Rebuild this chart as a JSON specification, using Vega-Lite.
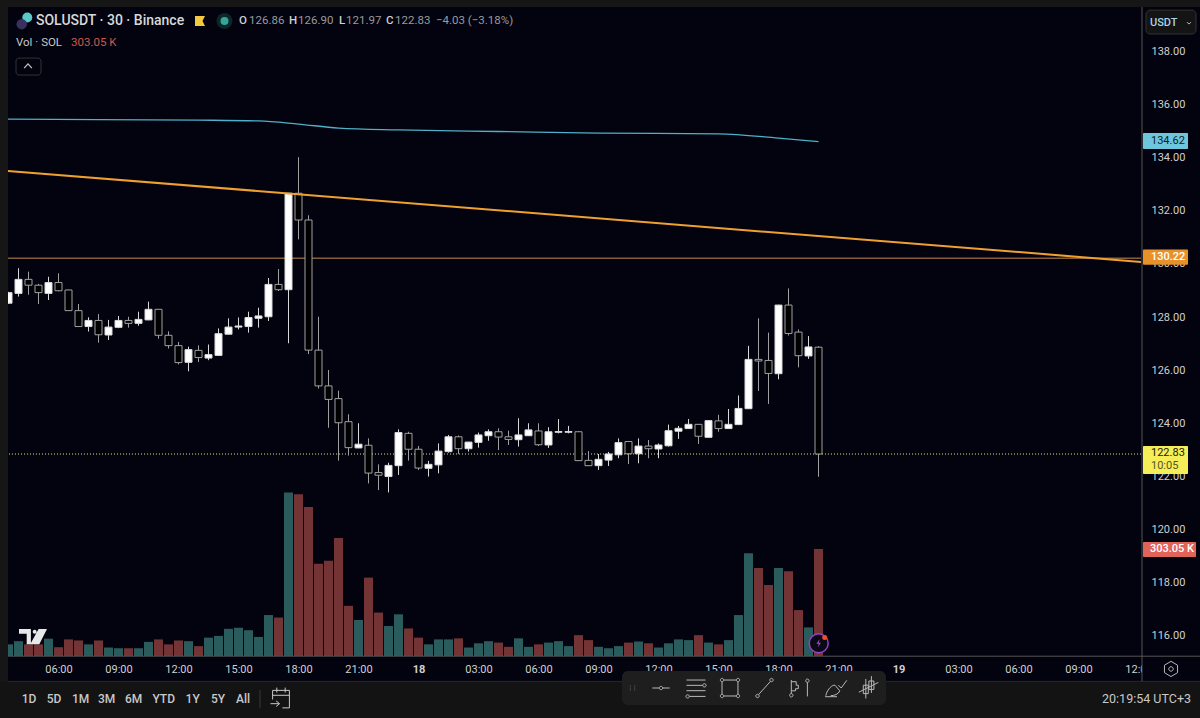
{"$schema":"https://vega.github.io/schema/vega-lite/v6.json","width":1133,"height":648,"autosize":"none","padding":{"left":8,"top":8,"right":59,"bottom":62},"background":"#02030f","view":{"stroke":null,"fill":"#02030f"},"config":{"axis":{"labelFont":"Roboto"}},
"datasets":{"candles":[
{"bar":0,"time":"2025-03-17T03:30","open":128.52,"high":128.95,"low":128.5,"close":128.92,"volume":33,"direction":"up"},
{"bar":1,"time":"2025-03-17T04:00","open":128.89,"high":129.84,"low":128.77,"close":129.42,"volume":42,"direction":"up"},
{"bar":2,"time":"2025-03-17T04:30","open":129.42,"high":129.71,"low":128.84,"close":129.2,"volume":33,"direction":"down"},
{"bar":3,"time":"2025-03-17T05:00","open":129.2,"high":129.25,"low":128.49,"close":128.92,"volume":33,"direction":"down"},
{"bar":4,"time":"2025-03-17T05:30","open":128.89,"high":129.52,"low":128.64,"close":129.3,"volume":49,"direction":"up"},
{"bar":5,"time":"2025-03-17T06:00","open":129.3,"high":129.65,"low":128.97,"close":128.99,"volume":25,"direction":"down"},
{"bar":6,"time":"2025-03-17T06:30","open":129.02,"high":129.03,"low":128.23,"close":128.24,"volume":47,"direction":"down"},
{"bar":7,"time":"2025-03-17T07:00","open":128.24,"high":128.49,"low":127.63,"close":127.64,"volume":44,"direction":"down"},
{"bar":8,"time":"2025-03-17T07:30","open":127.64,"high":127.99,"low":127.45,"close":127.87,"volume":33,"direction":"up"},
{"bar":9,"time":"2025-03-17T08:00","open":127.87,"high":128.11,"low":127.03,"close":127.33,"volume":44,"direction":"down"},
{"bar":10,"time":"2025-03-17T08:30","open":127.32,"high":127.89,"low":127.13,"close":127.62,"volume":24,"direction":"up"},
{"bar":11,"time":"2025-03-17T09:00","open":127.61,"high":128.04,"low":127.58,"close":127.87,"volume":22,"direction":"up"},
{"bar":12,"time":"2025-03-17T09:30","open":127.87,"high":128.01,"low":127.6,"close":127.76,"volume":22,"direction":"down"},
{"bar":13,"time":"2025-03-17T10:00","open":127.76,"high":128.2,"low":127.67,"close":127.91,"volume":22,"direction":"up"},
{"bar":14,"time":"2025-03-17T10:30","open":127.89,"high":128.58,"low":127.88,"close":128.29,"volume":40,"direction":"up"},
{"bar":15,"time":"2025-03-17T11:00","open":128.29,"high":128.3,"low":127.18,"close":127.31,"volume":47,"direction":"down"},
{"bar":16,"time":"2025-03-17T11:30","open":127.31,"high":127.46,"low":126.81,"close":126.92,"volume":33,"direction":"down"},
{"bar":17,"time":"2025-03-17T12:00","open":126.92,"high":127.06,"low":126.21,"close":126.28,"volume":44,"direction":"down"},
{"bar":18,"time":"2025-03-17T12:30","open":126.29,"high":126.88,"low":125.95,"close":126.77,"volume":42,"direction":"up"},
{"bar":19,"time":"2025-03-17T13:00","open":126.74,"high":126.93,"low":126.3,"close":126.47,"volume":28,"direction":"down"},
{"bar":20,"time":"2025-03-17T13:30","open":126.45,"high":126.96,"low":126.37,"close":126.58,"volume":52,"direction":"up"},
{"bar":21,"time":"2025-03-17T14:00","open":126.55,"high":127.57,"low":126.53,"close":127.37,"volume":57,"direction":"up"},
{"bar":22,"time":"2025-03-17T14:30","open":127.35,"high":127.95,"low":127.34,"close":127.62,"volume":77,"direction":"up"},
{"bar":23,"time":"2025-03-17T15:00","open":127.62,"high":127.98,"low":127.53,"close":127.66,"volume":80,"direction":"up"},
{"bar":24,"time":"2025-03-17T15:30","open":127.64,"high":128.2,"low":127.41,"close":127.98,"volume":73,"direction":"up"},
{"bar":25,"time":"2025-03-17T16:00","open":127.95,"high":128.35,"low":127.6,"close":128.04,"volume":54,"direction":"up"},
{"bar":26,"time":"2025-03-17T16:30","open":128.01,"high":129.47,"low":127.85,"close":129.23,"volume":116,"direction":"up"},
{"bar":27,"time":"2025-03-17T17:00","open":129.23,"high":129.81,"low":128.98,"close":129.03,"volume":109,"direction":"down"},
{"bar":28,"time":"2025-03-17T17:30","open":129.03,"high":132.68,"low":127.01,"close":132.67,"volume":463,"direction":"up"},
{"bar":29,"time":"2025-03-17T18:00","open":132.67,"high":134.03,"low":130.93,"close":131.66,"volume":458,"direction":"down"},
{"bar":30,"time":"2025-03-17T18:30","open":131.66,"high":131.84,"low":126.6,"close":126.75,"volume":422,"direction":"down"},
{"bar":31,"time":"2025-03-17T19:00","open":126.75,"high":128.01,"low":125.3,"close":125.4,"volume":261,"direction":"down"},
{"bar":32,"time":"2025-03-17T19:30","open":125.4,"high":126.0,"low":123.82,"close":124.89,"volume":270,"direction":"down"},
{"bar":33,"time":"2025-03-17T20:00","open":124.92,"high":125.22,"low":122.58,"close":124.01,"volume":334,"direction":"down"},
{"bar":34,"time":"2025-03-17T20:30","open":124.05,"high":124.33,"low":122.77,"close":123.07,"volume":142,"direction":"down"},
{"bar":35,"time":"2025-03-17T21:00","open":123.06,"high":123.99,"low":123.05,"close":123.2,"volume":102,"direction":"up"},
{"bar":36,"time":"2025-03-17T21:30","open":123.16,"high":123.42,"low":121.72,"close":122.11,"volume":222,"direction":"down"},
{"bar":37,"time":"2025-03-17T22:00","open":122.13,"high":122.44,"low":121.47,"close":122.03,"volume":123,"direction":"down"},
{"bar":38,"time":"2025-03-17T22:30","open":121.98,"high":122.5,"low":121.38,"close":122.4,"volume":85,"direction":"up"},
{"bar":39,"time":"2025-03-17T23:00","open":122.39,"high":123.76,"low":122.04,"close":123.64,"volume":118,"direction":"up"},
{"bar":40,"time":"2025-03-17T23:30","open":123.61,"high":123.67,"low":122.58,"close":123.01,"volume":78,"direction":"down"},
{"bar":41,"time":"2025-03-18T00:00","open":123.01,"high":123.13,"low":122.23,"close":122.3,"volume":52,"direction":"down"},
{"bar":42,"time":"2025-03-18T00:30","open":122.29,"high":122.57,"low":121.98,"close":122.44,"volume":33,"direction":"up"},
{"bar":43,"time":"2025-03-18T01:00","open":122.42,"high":123.23,"low":122.1,"close":122.94,"volume":47,"direction":"up"},
{"bar":44,"time":"2025-03-18T01:30","open":122.92,"high":123.55,"low":122.88,"close":123.48,"volume":47,"direction":"up"},
{"bar":45,"time":"2025-03-18T02:00","open":123.48,"high":123.53,"low":122.83,"close":123.03,"volume":50,"direction":"down"},
{"bar":46,"time":"2025-03-18T02:30","open":123.03,"high":123.29,"low":122.92,"close":123.28,"volume":24,"direction":"up"},
{"bar":47,"time":"2025-03-18T03:00","open":123.27,"high":123.64,"low":123.07,"close":123.55,"volume":36,"direction":"up"},
{"bar":48,"time":"2025-03-18T03:30","open":123.52,"high":123.76,"low":123.33,"close":123.67,"volume":42,"direction":"up"},
{"bar":49,"time":"2025-03-18T04:00","open":123.67,"high":123.8,"low":122.98,"close":123.47,"volume":38,"direction":"down"},
{"bar":50,"time":"2025-03-18T04:30","open":123.48,"high":123.71,"low":123.17,"close":123.38,"volume":26,"direction":"down"},
{"bar":51,"time":"2025-03-18T05:00","open":123.37,"high":124.18,"low":123.11,"close":123.55,"volume":50,"direction":"up"},
{"bar":52,"time":"2025-03-18T05:30","open":123.52,"high":123.99,"low":123.51,"close":123.74,"volume":26,"direction":"up"},
{"bar":53,"time":"2025-03-18T06:00","open":123.7,"high":123.99,"low":123.13,"close":123.18,"volume":33,"direction":"down"},
{"bar":54,"time":"2025-03-18T06:30","open":123.17,"high":123.84,"low":123.06,"close":123.67,"volume":38,"direction":"up"},
{"bar":55,"time":"2025-03-18T07:00","open":123.65,"high":124.15,"low":123.61,"close":123.68,"volume":42,"direction":"up"},
{"bar":56,"time":"2025-03-18T07:30","open":123.65,"high":123.89,"low":123.61,"close":123.68,"volume":28,"direction":"up"},
{"bar":57,"time":"2025-03-18T08:00","open":123.67,"high":123.68,"low":122.57,"close":122.58,"volume":59,"direction":"down"},
{"bar":58,"time":"2025-03-18T08:30","open":122.59,"high":122.94,"low":122.38,"close":122.39,"volume":45,"direction":"down"},
{"bar":59,"time":"2025-03-18T09:00","open":122.39,"high":122.83,"low":122.23,"close":122.63,"volume":26,"direction":"up"},
{"bar":60,"time":"2025-03-18T09:30","open":122.6,"high":122.91,"low":122.38,"close":122.83,"volume":22,"direction":"up"},
{"bar":61,"time":"2025-03-18T10:00","open":122.8,"high":123.42,"low":122.67,"close":123.26,"volume":28,"direction":"up"},
{"bar":62,"time":"2025-03-18T10:30","open":123.3,"high":123.31,"low":122.45,"close":122.84,"volume":38,"direction":"down"},
{"bar":63,"time":"2025-03-18T11:00","open":122.84,"high":123.42,"low":122.48,"close":123.13,"volume":41,"direction":"up"},
{"bar":64,"time":"2025-03-18T11:30","open":123.13,"high":123.36,"low":122.67,"close":123.03,"volume":36,"direction":"down"},
{"bar":65,"time":"2025-03-18T12:00","open":123.02,"high":123.23,"low":122.67,"close":123.17,"volume":24,"direction":"up"},
{"bar":66,"time":"2025-03-18T12:30","open":123.14,"high":123.94,"low":123.11,"close":123.71,"volume":36,"direction":"up"},
{"bar":67,"time":"2025-03-18T13:00","open":123.69,"high":123.89,"low":123.4,"close":123.8,"volume":47,"direction":"up"},
{"bar":68,"time":"2025-03-18T13:30","open":123.79,"high":124.15,"low":123.78,"close":123.95,"volume":45,"direction":"up"},
{"bar":69,"time":"2025-03-18T14:00","open":123.95,"high":123.96,"low":123.21,"close":123.5,"volume":59,"direction":"down"},
{"bar":70,"time":"2025-03-18T14:30","open":123.46,"high":124.1,"low":123.45,"close":124.09,"volume":38,"direction":"up"},
{"bar":71,"time":"2025-03-18T15:00","open":124.08,"high":124.31,"low":123.67,"close":123.79,"volume":33,"direction":"down"},
{"bar":72,"time":"2025-03-18T15:30","open":123.79,"high":124.53,"low":123.78,"close":123.95,"volume":45,"direction":"up"},
{"bar":73,"time":"2025-03-18T16:00","open":123.94,"high":125.04,"low":123.93,"close":124.55,"volume":116,"direction":"up"},
{"bar":74,"time":"2025-03-18T16:30","open":124.54,"high":126.91,"low":124.53,"close":126.4,"volume":291,"direction":"up"},
{"bar":75,"time":"2025-03-18T17:00","open":126.4,"high":127.95,"low":125.21,"close":126.34,"volume":249,"direction":"down"},
{"bar":76,"time":"2025-03-18T17:30","open":126.36,"high":127.41,"low":124.72,"close":125.87,"volume":201,"direction":"down"},
{"bar":77,"time":"2025-03-18T18:00","open":125.86,"high":128.46,"low":125.65,"close":128.45,"volume":249,"direction":"up"},
{"bar":78,"time":"2025-03-18T18:30","open":128.45,"high":129.08,"low":127.3,"close":127.38,"volume":240,"direction":"down"},
{"bar":79,"time":"2025-03-18T19:00","open":127.43,"high":127.53,"low":126.1,"close":126.54,"volume":130,"direction":"down"},
{"bar":80,"time":"2025-03-18T19:30","open":126.53,"high":127.28,"low":126.42,"close":126.87,"volume":81,"direction":"up"},
{"bar":81,"time":"2025-03-18T20:00","open":126.86,"high":126.9,"low":121.97,"close":122.83,"volume":303.05,"direction":"down"}
],
"movingAverage":[{"bar":-0.05,"price":135.47},{"bar":9,"price":135.45},{"bar":19,"price":135.43},{"bar":25,"price":135.4},{"bar":29,"price":135.28},{"bar":33,"price":135.13},{"bar":39,"price":135.06},{"bar":49,"price":135.0},{"bar":59,"price":134.94},{"bar":71,"price":134.91},{"bar":77,"price":134.75},{"bar":81,"price":134.62}],
"trendline":[{"bar":-0.05,"price":133.51},{"bar":113.25,"price":130.08}]},
"resolve":{"scale":{"y":"independent"}},
"layer":[
{"data":{"name":"candles"},"mark":{"type":"bar","size":9,"orient":"vertical"},"encoding":{
"x":{"field":"bar","type":"quantitative","scale":{"domain":[-0.05,113.25],"nice":false,"zero":false,"padding":0},"axis":{"title":null,"values":[5,11,17,23,29,35,41,47,53,59,65,71,77,83,89,95,101,107,113],"labelExpr":"(3.5+datum.value/2)%24==0 ? ''+(17+(3.5+datum.value/2)/24) : format((3.5+datum.value/2)%24,'02d')+':00'","ticks":false,"grid":false,"domain":false,"labelPadding":7,"labelFontSize":11,"labelColor":"#d0d0d0","labelOverlap":false,"labelFlush":false,"labelBound":false,"labelFontWeight":{"condition":{"test":"(3.5+datum.value/2)%24==0","value":"bold"},"value":"normal"}}},
"y":{"field":"volume","type":"quantitative","scale":{"domain":[0,1835],"nice":false,"zero":true},"axis":null},
"color":{"field":"direction","type":"nominal","scale":{"domain":["up","down"],"range":["#2a5c5e","#743335"]},"legend":null}}},
{"data":{"values":[{}]},"layer":[
{"mark":{"type":"rule","color":"#c98a4a","strokeWidth":1},"encoding":{"y":{"datum":130.22,"scale":{"domain":[115.208,139.66],"nice":false,"zero":false},"axis":{"title":null,"orient":"right","values":[116,118,120,122,124,126,128,130,132,134,136,138],"format":".2f","ticks":false,"grid":false,"domain":false,"labelPadding":10,"labelFontSize":11,"labelColor":"#d0d0d0","labelOverlap":false,"labelFlush":false,"labelBound":false}}}},
{"mark":{"type":"rule","color":"#e8e27a","strokeWidth":1,"strokeDash":[1,2]},"encoding":{"y":{"datum":122.83}}},
{"data":{"name":"movingAverage"},"mark":{"type":"line","color":"#4fb0c8","strokeWidth":1.3,"interpolate":"monotone"},"encoding":{"x":{"field":"bar","type":"quantitative"},"y":{"field":"price","type":"quantitative"}}},
{"data":{"name":"candles"},"mark":{"type":"rule","strokeWidth":1},"encoding":{"x":{"field":"bar","type":"quantitative"},"y":{"field":"low","type":"quantitative"},"y2":{"field":"high"},"stroke":{"field":"direction","type":"nominal","scale":{"domain":["up","down"],"range":["#d8d8d8","#a0a0a0"]},"legend":null}}},
{"data":{"name":"candles"},"mark":{"type":"bar","size":7,"orient":"vertical","strokeWidth":1},"encoding":{"x":{"field":"bar","type":"quantitative"},"y":{"field":"open","type":"quantitative"},"y2":{"field":"close"},"fill":{"field":"direction","type":"nominal","scale":{"domain":["up","down"],"range":["#ffffff","#000000"]},"legend":null},"stroke":{"field":"direction","type":"nominal","scale":{"domain":["up","down"],"range":["#ffffff","#787878"]},"legend":null}}},
{"data":{"name":"trendline"},"mark":{"type":"line","color":"#f0a030","strokeWidth":2},"encoding":{"x":{"field":"bar","type":"quantitative"},"y":{"field":"price","type":"quantitative"}}},

{"mark":{"type":"rect","fill":"#161616"},"encoding":{"x":{"datum":-0.85},"x2":{"datum":119.15},"y":{"datum":139.96},"y2":{"datum":139.7}}},
{"mark":{"type":"rect","fill":"#161616"},"encoding":{"x":{"datum":-0.85},"x2":{"datum":-0.05},"y":{"datum":139.96},"y2":{"datum":112.87}}},
{"mark":{"type":"rect","fill":"#02030f"},"encoding":{"x":{"datum":113.35},"x2":{"datum":119.15},"y":{"datum":115.19},"y2":{"datum":114.26}}},
{"mark":{"type":"rect","fill":"#131313"},"encoding":{"x":{"datum":-0.85},"x2":{"datum":119.15},"y":{"datum":114.23},"y2":{"datum":112.87}}},
{"mark":{"type":"rule","color":"#555555","strokeWidth":1},"encoding":{"x":{"datum":-0.05},"x2":{"datum":119.15},"y":{"datum":115.2}}},
{"mark":{"type":"rule","color":"#2a2a2a","strokeWidth":1},"encoding":{"x":{"datum":-0.05},"x2":{"datum":119.15},"y":{"datum":114.25}}},
{"mark":{"type":"rule","color":"#555555","strokeWidth":1},"encoding":{"x":{"datum":113.35},"y":{"datum":139.7},"y2":{"datum":114.25}}},

{"mark":{"type":"text","text":"SOLUSDT · 30 · Binance","font":"Roboto","fontSize":14,"fontWeight":500,"align":"left","baseline":"middle","color":"#d8d8d8"},"encoding":{"x":{"datum":2.75},"y":{"datum":139.17}}},
{"mark":{"type":"point","shape":"circle","size":100,"filled":true,"color":"#5ac8c8","opacity":1},"encoding":{"x":{"datum":1.88},"y":{"datum":139.3}}},
{"mark":{"type":"point","shape":"circle","size":110,"filled":true,"color":"#3a3060","opacity":1},"encoding":{"x":{"datum":1.32},"y":{"datum":139.05}}},
{"mark":{"type":"point","shape":"M-1,-1H1L0.5,0L1,1H-1Z","size":100,"filled":true,"color":"#f5c842","opacity":1},"encoding":{"x":{"datum":19.15},"y":{"datum":139.17}}},
{"mark":{"type":"point","shape":"circle","size":256,"filled":true,"color":"#0e2628","opacity":1},"encoding":{"x":{"datum":21.6},"y":{"datum":139.17}}},
{"mark":{"type":"point","shape":"circle","size":64,"filled":true,"color":"#2fa89a","opacity":1},"encoding":{"x":{"datum":21.6},"y":{"datum":139.17}}},
{"mark":{"type":"text","text":"O","font":"Roboto","fontSize":11.5,"fontWeight":500,"align":"left","baseline":"middle","color":"#d0d0d0"},"encoding":{"x":{"datum":23.05},"y":{"datum":139.17}}},
{"mark":{"type":"text","text":"126.86","font":"Roboto","fontSize":11.5,"align":"left","baseline":"middle","color":"#9a9a9a"},"encoding":{"x":{"datum":24.05},"y":{"datum":139.17}}},
{"mark":{"type":"text","text":"H","font":"Roboto","fontSize":11.5,"fontWeight":500,"align":"left","baseline":"middle","color":"#d0d0d0"},"encoding":{"x":{"datum":28.05},"y":{"datum":139.17}}},
{"mark":{"type":"text","text":"126.90","font":"Roboto","fontSize":11.5,"align":"left","baseline":"middle","color":"#9a9a9a"},"encoding":{"x":{"datum":28.95},"y":{"datum":139.17}}},
{"mark":{"type":"text","text":"L","font":"Roboto","fontSize":11.5,"fontWeight":500,"align":"left","baseline":"middle","color":"#d0d0d0"},"encoding":{"x":{"datum":33.05},"y":{"datum":139.17}}},
{"mark":{"type":"text","text":"121.97","font":"Roboto","fontSize":11.5,"align":"left","baseline":"middle","color":"#9a9a9a"},"encoding":{"x":{"datum":33.75},"y":{"datum":139.17}}},
{"mark":{"type":"text","text":"C","font":"Roboto","fontSize":11.5,"fontWeight":500,"align":"left","baseline":"middle","color":"#d0d0d0"},"encoding":{"x":{"datum":37.75},"y":{"datum":139.17}}},
{"mark":{"type":"text","text":"122.83","font":"Roboto","fontSize":11.5,"align":"left","baseline":"middle","color":"#9a9a9a"},"encoding":{"x":{"datum":38.65},"y":{"datum":139.17}}},
{"mark":{"type":"text","text":"−4.03 (−3.18%)","font":"Roboto","fontSize":11.5,"align":"left","baseline":"middle","color":"#9a9a9a"},"encoding":{"x":{"datum":42.75},"y":{"datum":139.17}}},
{"mark":{"type":"text","text":"Vol · SOL","font":"Roboto","fontSize":11.5,"align":"left","baseline":"middle","color":"#c8c8c8"},"encoding":{"x":{"datum":0.75},"y":{"datum":138.34}}},
{"mark":{"type":"text","text":"303.05 K","font":"Roboto","fontSize":11.5,"align":"left","baseline":"middle","color":"#d0584c"},"encoding":{"x":{"datum":6.25},"y":{"datum":138.34}}},
{"mark":{"type":"rect","fill":"#02030f","stroke":"#333333","strokeWidth":1,"cornerRadius":3},"encoding":{"x":{"datum":0.75},"x2":{"datum":3.25},"y":{"datum":137.77},"y2":{"datum":137.13}}},
{"mark":{"type":"point","shape":"M-.55,.3L0,-.3L.55,.3","size":196,"filled":false,"stroke":"#c8c8c8","strokeWidth":1.2,"opacity":1},"encoding":{"x":{"datum":1.95},"y":{"datum":137.47}}},

{"mark":{"type":"rect","fill":"#141414","stroke":"#333333","strokeWidth":1,"cornerRadius":4},"encoding":{"x":{"datum":113.75},"x2":{"datum":118.75},"y":{"datum":139.58},"y2":{"datum":138.68}}},
{"mark":{"type":"text","text":"USDT","font":"Roboto","fontSize":11,"fontWeight":500,"align":"left","baseline":"middle","color":"#a9d5e8"},"encoding":{"x":{"datum":114.15},"y":{"datum":139.11}}},
{"mark":{"type":"point","shape":"M-.4,-.2L0,.2L.4,-.2","size":100,"filled":false,"stroke":"#b8b8b8","strokeWidth":1,"opacity":1},"encoding":{"x":{"datum":118.05},"y":{"datum":139.09}}},
{"mark":{"type":"rect","fill":"#6ec6dc","cornerRadius":1},"encoding":{"x":{"datum":113.45},"x2":{"datum":117.95},"y":{"datum":134.94},"y2":{"datum":134.34}}},
{"mark":{"type":"text","text":"134.62","font":"Roboto","fontSize":11,"align":"left","baseline":"middle","color":"#10202a"},"encoding":{"x":{"datum":114.25},"y":{"datum":134.64}}},
{"mark":{"type":"rect","fill":"#e8912a","cornerRadius":1},"encoding":{"x":{"datum":113.45},"x2":{"datum":117.95},"y":{"datum":130.55},"y2":{"datum":129.97}}},
{"mark":{"type":"text","text":"130.22","font":"Roboto","fontSize":11,"fontWeight":500,"align":"left","baseline":"middle","color":"#ffffff"},"encoding":{"x":{"datum":114.25},"y":{"datum":130.25}}},
{"mark":{"type":"rect","fill":"#f5ee58","cornerRadius":1},"encoding":{"x":{"datum":113.45},"x2":{"datum":117.95},"y":{"datum":123.13},"y2":{"datum":122.08}}},
{"mark":{"type":"text","text":"122.83","font":"Roboto","fontSize":11,"align":"left","baseline":"middle","color":"#1a1a08"},"encoding":{"x":{"datum":114.25},"y":{"datum":122.85}}},
{"mark":{"type":"text","text":"10:05","font":"Roboto","fontSize":11,"align":"left","baseline":"middle","color":"#55551e"},"encoding":{"x":{"datum":114.25},"y":{"datum":122.38}}},
{"mark":{"type":"rect","fill":"#e0635a","cornerRadius":1},"encoding":{"x":{"datum":113.45},"x2":{"datum":118.75},"y":{"datum":119.51},"y2":{"datum":118.94}}},
{"mark":{"type":"text","text":"303.05 K","font":"Roboto","fontSize":11,"fontWeight":500,"align":"left","baseline":"middle","color":"#ffffff"},"encoding":{"x":{"datum":114.15},"y":{"datum":119.23}}},

{"mark":{"type":"point","shape":"M-1,-.55H-.15V.55H-.45V-.2H-1Z M-.02,-.35a.14,.14 0 1,0 .28,0a.14,.14 0 1,0 -.28,0 M.4,-.55H1L.45,.55H-.2Z","size":784,"filled":true,"color":"#e8e8e8","opacity":1},"encoding":{"x":{"datum":2.45},"y":{"datum":115.94}}},
{"mark":{"type":"point","shape":"circle","size":361,"filled":true,"fill":"#0a0a16","stroke":"#9b3fc8","strokeWidth":1.5,"opacity":1},"encoding":{"x":{"datum":81.02},"y":{"datum":115.69}}},
{"mark":{"type":"point","shape":"M.15,-.8L-.45,.1H0L-.15,.8L.45,-.1H0Z","size":100,"filled":true,"color":"#a04ad0","opacity":1},"encoding":{"x":{"datum":81.02},"y":{"datum":115.69}}},
{"mark":{"type":"point","shape":"circle","size":25,"filled":true,"color":"#f04a30","opacity":1},"encoding":{"x":{"datum":81.62},"y":{"datum":115.91}}},

{"mark":{"type":"rect","fill":"#1e1e1e","cornerRadius":6},"encoding":{"x":{"datum":61.35},"x2":{"datum":87.75},"y":{"datum":114.64},"y2":{"datum":113.36}}},
{"mark":{"type":"point","shape":"M-.55,-.55h.25v.25h-.25Z M.3,-.55h.25v.25h-.25Z M-.55,-.12h.25v.25h-.25Z M.3,-.12h.25v.25h-.25Z M-.55,.3h.25v.25h-.25Z M.3,.3h.25v.25h-.25Z","size":100,"filled":true,"color":"#4a4a4a","opacity":1},"encoding":{"x":{"datum":62.4},"y":{"datum":114.0}}},
{"mark":{"type":"point","shape":"M-.62,0H-.12 M.12,0H.62 M-.12,0a.12,.12 0 1,0 .24,0a.12,.12 0 1,0 -.24,0","size":784,"filled":false,"stroke":"#b8b8b8","strokeWidth":1,"opacity":1},"encoding":{"x":{"datum":65.25},"y":{"datum":114.0}}},
{"mark":{"type":"point","shape":"M-.68,-.57H.68 M-.68,-.19H.48 M-.68,.19H.68 M-.48,.6H.68 M.48,-.19a.12,.12 0 1,0 .24,0a.12,.12 0 1,0 -.24,0 M-.72,.6a.12,.12 0 1,0 .24,0a.12,.12 0 1,0 -.24,0","size":784,"filled":false,"stroke":"#b8b8b8","strokeWidth":1,"opacity":1},"encoding":{"x":{"datum":68.75},"y":{"datum":114.0}}},
{"mark":{"type":"point","shape":"M-.57,-.45V.45 M.57,-.45V.45 M-.45,-.57H.45 M-.45,.57H.45 M-.69,-.57a.12,.12 0 1,0 .24,0a.12,.12 0 1,0 -.24,0 M.45,-.57a.12,.12 0 1,0 .24,0a.12,.12 0 1,0 -.24,0 M-.69,.57a.12,.12 0 1,0 .24,0a.12,.12 0 1,0 -.24,0 M.45,.57a.12,.12 0 1,0 .24,0a.12,.12 0 1,0 -.24,0","size":784,"filled":false,"stroke":"#b8b8b8","strokeWidth":1,"opacity":1},"encoding":{"x":{"datum":72.15},"y":{"datum":114.0}}},
{"mark":{"type":"point","shape":"M-.42,.47L.42,-.47 M-.62,.57a.12,.12 0 1,0 .24,0a.12,.12 0 1,0 -.24,0 M.38,-.57a.12,.12 0 1,0 .24,0a.12,.12 0 1,0 -.24,0","size":784,"filled":false,"stroke":"#b8b8b8","strokeWidth":1,"opacity":1},"encoding":{"x":{"datum":75.6},"y":{"datum":114.0}}},
{"mark":{"type":"point","shape":"M-.55,-.57V.4 M-.55,-.45H-.2V-.2H-.05V.05H-.25V.2H-.55 M-.67,.52a.12,.12 0 1,0 .24,0a.12,.12 0 1,0 -.24,0 M.6,-.4V.6 M.48,-.52a.12,.12 0 1,0 .24,0a.12,.12 0 1,0 -.24,0","size":784,"filled":false,"stroke":"#b8b8b8","strokeWidth":1,"opacity":1},"encoding":{"x":{"datum":79.05},"y":{"datum":114.0}}},
{"mark":{"type":"point","shape":"M-.75,.62H.1 M-.7,.55C-.6,.05 -.2,-.25 -.05,-.2L.3,.2C.2,.45 -.1,.55 -.35,.55 M.2,-.2L.4,0L.8,-.55","size":784,"filled":false,"stroke":"#b8b8b8","strokeWidth":1,"opacity":1},"encoding":{"x":{"datum":82.71},"y":{"datum":114.0}}},
{"mark":{"type":"point","shape":"M-.2,-.65V.75 M-.38,-.2H-.02V.4H-.38Z M.2,-.85V.35 M.02,-.5H.38V.1H.02Z M-.7,.3L.7,-.4","size":784,"filled":false,"stroke":"#b8b8b8","strokeWidth":1,"opacity":1},"encoding":{"x":{"datum":86.01},"y":{"datum":114.0}}},

{"mark":{"type":"text","text":"1D","font":"Roboto","fontSize":12,"fontWeight":500,"align":"center","baseline":"middle","color":"#c8c8c8"},"encoding":{"x":{"datum":2.05},"y":{"datum":113.58}}},
{"mark":{"type":"text","text":"5D","font":"Roboto","fontSize":12,"fontWeight":500,"align":"center","baseline":"middle","color":"#c8c8c8"},"encoding":{"x":{"datum":4.55},"y":{"datum":113.58}}},
{"mark":{"type":"text","text":"1M","font":"Roboto","fontSize":12,"fontWeight":500,"align":"center","baseline":"middle","color":"#c8c8c8"},"encoding":{"x":{"datum":7.22},"y":{"datum":113.58}}},
{"mark":{"type":"text","text":"3M","font":"Roboto","fontSize":12,"fontWeight":500,"align":"center","baseline":"middle","color":"#c8c8c8"},"encoding":{"x":{"datum":9.82},"y":{"datum":113.58}}},
{"mark":{"type":"text","text":"6M","font":"Roboto","fontSize":12,"fontWeight":500,"align":"center","baseline":"middle","color":"#c8c8c8"},"encoding":{"x":{"datum":12.52},"y":{"datum":113.58}}},
{"mark":{"type":"text","text":"YTD","font":"Roboto","fontSize":12,"fontWeight":500,"align":"center","baseline":"middle","color":"#c8c8c8"},"encoding":{"x":{"datum":15.52},"y":{"datum":113.58}}},
{"mark":{"type":"text","text":"1Y","font":"Roboto","fontSize":12,"fontWeight":500,"align":"center","baseline":"middle","color":"#c8c8c8"},"encoding":{"x":{"datum":18.42},"y":{"datum":113.58}}},
{"mark":{"type":"text","text":"5Y","font":"Roboto","fontSize":12,"fontWeight":500,"align":"center","baseline":"middle","color":"#c8c8c8"},"encoding":{"x":{"datum":20.95},"y":{"datum":113.58}}},
{"mark":{"type":"text","text":"All","font":"Roboto","fontSize":12,"fontWeight":500,"align":"center","baseline":"middle","color":"#c8c8c8"},"encoding":{"x":{"datum":23.45},"y":{"datum":113.58}}},
{"mark":{"type":"rule","color":"#3a3a3a","strokeWidth":1},"encoding":{"x":{"datum":25.15},"y":{"datum":113.92},"y2":{"datum":113.25}}},
{"mark":{"type":"point","shape":"M-.6,.1V-.55H.6V.7H.1 M-.6,-.2H.6 M-.3,-.75V-.4 M.3,-.75V-.4 M-.75,.4H-.15 M-.35,.2L-.1,.4L-.35,.6","size":784,"filled":false,"stroke":"#c8c8c8","strokeWidth":1,"opacity":1},"encoding":{"x":{"datum":27.25},"y":{"datum":113.62}}},
{"mark":{"type":"text","text":"20:19:54 UTC+3","font":"Roboto","fontSize":12.5,"align":"right","baseline":"middle","color":"#c8c8c8"},"encoding":{"x":{"datum":118.25},"y":{"datum":113.58}}},
{"mark":{"type":"point","shape":"M0,-.95L.82,-.47V.47L0,.95L-.82,.47V-.47Z M-.28,0a.28,.28 0 1,0 .56,0a.28,.28 0 1,0 -.56,0","size":256,"filled":false,"stroke":"#b8b8b8","strokeWidth":1,"opacity":1},"encoding":{"x":{"datum":116.25},"y":{"datum":114.72}}}
]}
]}
